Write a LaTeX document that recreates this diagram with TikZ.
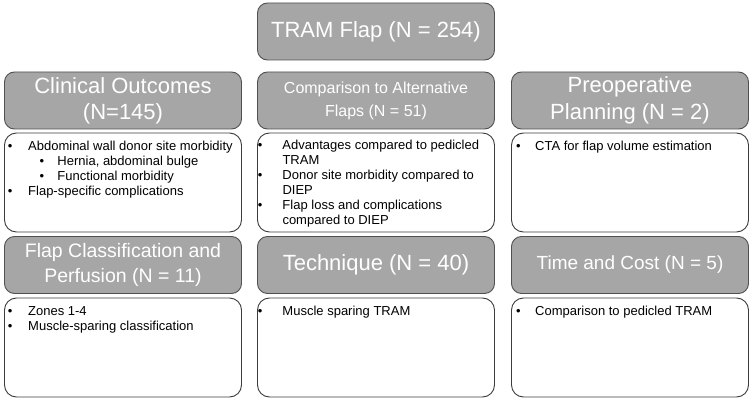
\documentclass[tikz,border=0pt]{standalone}
\usepackage{fontspec}
\setmainfont{Liberation Sans}
\usetikzlibrary{positioning}

\definecolor{headfill}{RGB}{166,166,166}
\definecolor{headline}{RGB}{80,80,80}
\definecolor{bodyline}{RGB}{60,60,60}

% bullet with a fixed gap before its text
\newcommand{\bpt}[2]{\makebox[#1][l]{\textbullet}#2}

\tikzset{
  head/.style={draw=headline, fill=headfill, text=white, line width=0.9pt,
    rounded corners=10pt, inner sep=0pt, align=center,
    minimum width=237pt, minimum height=57pt},
  body/.style={draw=bodyline, fill=white, line width=0.9pt,
    rounded corners=12pt, inner sep=0pt,
    minimum width=237pt, minimum height=99pt},
  items/.style={anchor=north west, inner sep=0pt, align=left,
    font=\fontsize{13}{15}\selectfont}
}

\begin{document}
\begin{tikzpicture}[x=1pt,y=-1pt]
      % Every position is given in pixels of the reference
      \def\colA{123} \def\colB{376} \def\colC{630}
      \def\headA{100.5} \def\bodyA{182.5} \def\headB{265} \def\bodyB{347.5}

      % Canvas
      \useasboundingbox (0,0) rectangle (753,401);

      % Top box
      \node[head, minimum height=57pt, font=\fontsize{22}{26}\selectfont] (tram) at (\colB,31.5) {TRAM Flap (N = 254)};

      % Headers, first row
      \node[head, font=\fontsize{22}{26}\selectfont] (clin) at (\colA,\headA) {Clinical Outcomes\\(N=145)};
      \node[head, font=\fontsize{16}{23}\selectfont] (comp) at (\colB,\headA) {Comparison to Alternative\\Flaps (N = 51)};
      \node[head, font=\fontsize{22}{27}\selectfont] (preop) at (\colC,\headA) {Preoperative\\Planning (N = 2)};

      % Bodies, first row
      \node[body] (clinbody) at (\colA,\bodyA) {};
      \node[body] (compbody) at (\colB,\bodyA) {};
      \node[body] (preopbody) at (\colC,\bodyA) {};

      % Headers, second row
      \node[head, font=\fontsize{19.5}{25}\selectfont] (class) at (\colA,\headB) {Flap Classification and\\Perfusion (N = 11)};
      \node[head, font=\fontsize{22}{26}\selectfont] (tech) at (\colB,\headB) {Technique (N = 40)};
      \node[head, font=\fontsize{19}{24}\selectfont] (cost) at (\colC,\headB) {Time and Cost (N = 5)};

      % Bodies, second row
      \node[body] (classbody) at (\colA,\bodyB) {};
      \node[body] (techbody) at (\colB,\bodyB) {};
      \node[body] (costbody) at (\colC,\bodyB) {};

      % Items
      \node[items] (clinitems) at (7.7,141) {\bpt{20.3pt}{Abdominal wall donor site morbidity}\\
        \hspace*{31.7pt}\bpt{17.9pt}{Hernia, abdominal bulge}\\
        \hspace*{31.7pt}\bpt{17.9pt}{Functional morbidity}\\
        \bpt{20.3pt}{Flap-specific complications}};
      \node[items] (compitems) at (257.7,140) {\bpt{24.6pt}{Advantages compared to pedicled}\\
        \hspace*{24.6pt}TRAM\\
        \bpt{24.6pt}{Donor site morbidity compared to}\\
        \hspace*{24.6pt}DIEP\\
        \bpt{24.6pt}{Flap loss and complications}\\
        \hspace*{24.6pt}compared to DIEP};
      \node[items] (preopitems) at (516,141) {\bpt{19pt}{CTA for flap volume estimation}};

      \node[items] (classitems) at (7.7,306) {\bpt{20.3pt}{Zones 1-4}\\
        \bpt{20.3pt}{Muscle-sparing classification}};
      \node[items] (techitems) at (257.7,306) {\bpt{24.6pt}{Muscle sparing TRAM}};
      \node[items] (costitems) at (516,306) {\bpt{19pt}{Comparison to pedicled TRAM}};

  \end{tikzpicture}
\end{document}
